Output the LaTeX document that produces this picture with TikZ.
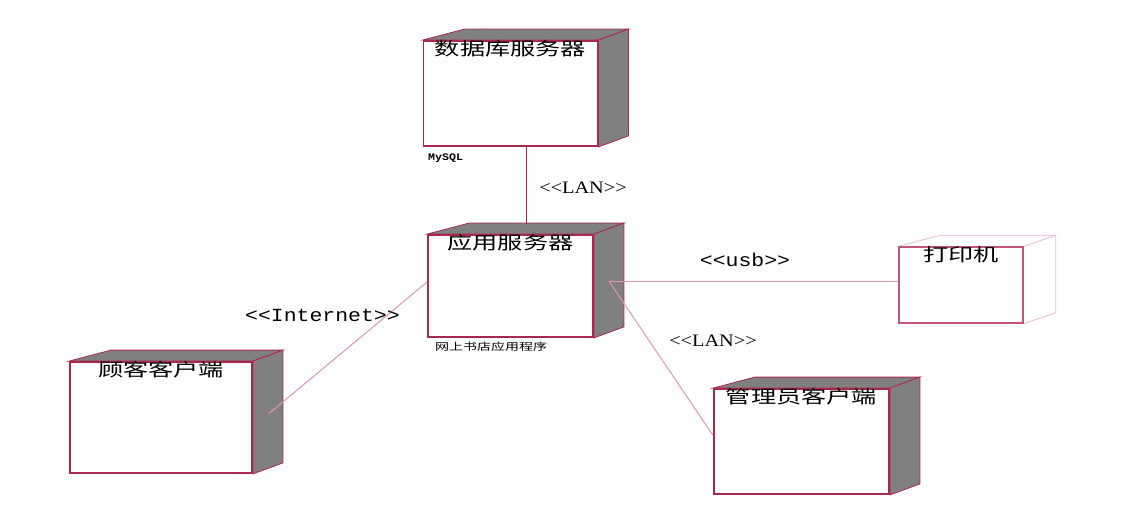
\documentclass[tikz,border=0pt]{standalone}
\usepackage{fontspec}
\setmainfont{Liberation Serif}
\newfontfamily\serifwide[FakeStretch=1.16]{Liberation Serif}
\newfontfamily\monowide[FakeStretch=1.16]{Liberation Mono}
\newfontfamily\cjk[FakeStretch=1.4]{Noto Sans CJK SC}
\usetikzlibrary{positioning}
\pgfdeclarelayer{background}
\pgfsetlayers{background,main}

\definecolor{nodeedge}{RGB}{170,40,80}
\definecolor{printedge}{RGB}{195,85,120}
\definecolor{faintpink}{RGB}{235,185,200}
\definecolor{linkpink}{RGB}{225,150,170}
\definecolor{sidegray}{RGB}{128,128,128}

\begin{document}
\begin{tikzpicture}[
        x=1pt, y=1pt,
        device/.style={rectangle, draw=nodeedge, line width=1.8pt, fill=white, inner sep=0pt},
        printer/.style={device, draw=printedge, line width=1.4pt},
        title/.style={inner sep=0pt, font=\cjk\fontsize{18}{18}\selectfont},
        note/.style={inner sep=0pt, anchor=west},
        stereo/.style={inner sep=0pt, anchor=base},
        link/.style={draw=linkpink, line width=1pt},
        mainlink/.style={draw=nodeedge, line width=1.6pt}
    ]
        \useasboundingbox (0,0) rectangle (1131,528);

        % Nodes (front faces)
        \node[device, minimum width=174pt, minimum height=105pt] (db) at (510.5,434.5) {};
        \node[device, minimum width=165pt, minimum height=102pt] (app) at (510.5,242) {};
        \node[printer, minimum width=124pt, minimum height=76pt] (print) at (961,243) {};
        \node[device, minimum width=182pt, minimum height=111pt] (cust) at (161,110.5) {};
        \node[device, minimum width=175pt, minimum height=105pt] (admin) at (801.5,86.5) {};

        % 3D faces
        \begin{pgfonlayer}{background}
        \foreach \n in {db,app,cust,admin} {
            \filldraw[fill=sidegray, draw=nodeedge, line width=0.8pt]
                (\n.north west) -- ++(42,11) -- ([shift={(30,11)}]\n.north east) -- (\n.north east) -- cycle;
            \filldraw[fill=sidegray, draw=nodeedge, line width=0.8pt]
                (\n.north east) -- ++(30,11) -- ([shift={(30,11)}]\n.south east) -- (\n.south east) -- cycle;
        }
        \draw[faintpink, line width=0.8pt]
            (print.north west) -- ++(42,11) -- ([shift={(32,11)}]print.north east)
            -- ([shift={(32,11)}]print.south east) -- (print.south east)
            (print.north east) -- ++(32,11);
        \end{pgfonlayer}

        % Titles
        \node[title, below=0pt of db.north] {数据库服务器};
        \node[title, below=0pt of app.north] {应用服务器};
        \node[title, below=0pt of print.north] {打印机};
        \node[title, below=0pt of cust.north] {顾客客户端};
        \node[title, below=0pt of admin.north] {管理员客户端};

        % Small labels
        \node[note, font=\monowide\bfseries\fontsize{10}{10}\selectfont] (mysql) at (428,370) {MySQL};
        \node[note, font=\cjk\fontsize{10}{10}\selectfont] (webapp) at (435,181) {网上书店应用程序};

        % Ports
        \coordinate (appport) at ([shift={(15,5)}]app.east);
        \coordinate (custport) at ([shift={(16,4)}]cust.east);

        % Connectors
        \draw[mainlink] ([xshift=16pt]db.south) -- ([shift={(16,10)}]app.north);
        \draw[link] (custport) -- ([yshift=4pt]app.west);
        \draw[link] (appport) -- ([yshift=4pt]print.west);
        \draw[link] (appport) -- ([yshift=6pt]admin.west);

        % Stereotypes
        \node[stereo, font=\serifwide\fontsize{17.5}{17.5}\selectfont] (lan1) at (583,334.7) {<{}<LAN>{}>};
        \node[stereo, font=\monowide\fontsize{18.5}{18.5}\selectfont] (usb) at (745,261.3) {<{}<usb>{}>};
        \node[stereo, font=\monowide\fontsize{18.5}{18.5}\selectfont] (inet) at (322.5,206.3) {<{}<Internet>{}>};
        \node[stereo, font=\serifwide\fontsize{17.5}{17.5}\selectfont] (lan2) at (713,181.3) {<{}<LAN>{}>};

    \end{tikzpicture}
\end{document}
